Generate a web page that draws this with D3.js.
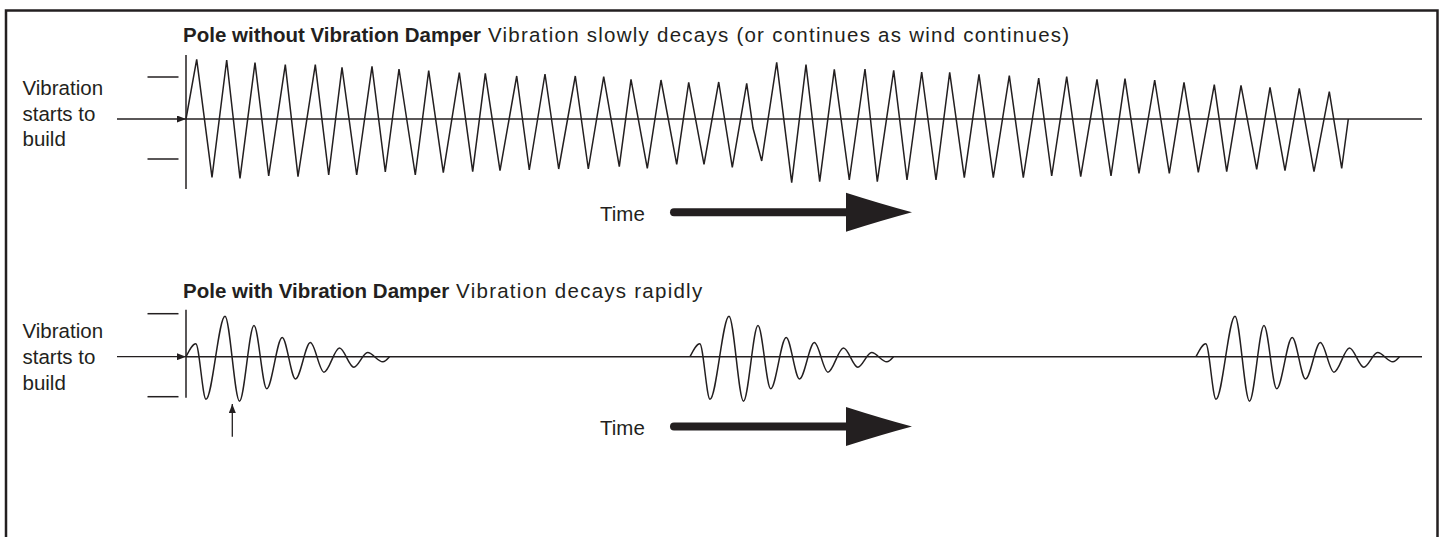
<!DOCTYPE html>
<html>
<head>
<meta charset="utf-8">
<script src="https://cdn.jsdelivr.net/npm/d3@7"></script>
<style>
  body { margin: 0; background: #fff; }
  svg { display: block; }
  text { font-family: "Liberation Sans", Arial, sans-serif; fill: #231f20; }
</style>
</head>
<body>
<script>
// time runs 0..1236 along both panels, amplitude in units where the guide ticks sit near +-41
const sideLabel = ["Vibration", "starts to", "build"];

const topTitle = ["Pole without Vibration Damper", "Vibration slowly decays (or continues as wind continues)"];
const bottomTitle = ["Pole with Vibration Damper", "Vibration decays rapidly"];

const topTicks = [42, -40];
const bottomTicks = [43, -40];

// undamped pole: peaks and troughs of the zigzag [time, amplitude]
const topWave = [
  [0, 0], [10.7, 59.7], [26, -58.3], [40.7, 59], [54, -59.3], [69, 56.3], [82.7, -57],
  [99.3, 54.3], [112, -57.7], [129.3, 54.3], [142.7, -56], [156, 51.7], [170.7, -56],
  [186, 52.7], [199.3, -53], [213, 50], [229.3, -56], [242.7, 48.3], [257.3, -53.7],
  [273.3, 46.3], [286.7, -52.7], [299.3, 45.7], [314, -51.7], [330.7, 43], [343.3, -51],
  [359, 45], [372.7, -50], [389.3, 43], [402.3, -50], [417.7, 42.3], [433.3, -47.7],
  [445, 39.7], [461.3, -49.3], [475, 39], [490.7, -45.3], [502.7, 36.7], [518, -45.3],
  [532.7, 37], [546.3, -48.3], [560.7, 35.7], [567, -9], [575.7, -42],
  [590.7, 56.7], [605.7, -63.7], [620, 54.3], [633.7, -62.7], [648.3, 49.7], [663.3, -61],
  [679, 50], [691.3, -62.7], [707.7, 48.7], [721, -61], [735.7, 47], [750, -61],
  [763.7, 46.7], [778.3, -58.7], [793, 44.7], [807.3, -58.7], [823.3, 43.3], [837.3, -58.7],
  [852.7, 41], [865.7, -57], [880.7, 42.3], [894.7, -57.7], [911, 39.7], [925, -57],
  [939, 40.3], [953, -54.3], [968.7, 39], [983.3, -54.3], [998, 36.7], [1012.3, -53.3],
  [1028.3, 34.3], [1040.7, -52.7], [1055, 33.7], [1070.7, -50.3], [1084, 31.7], [1099, -51.7],
  [1113.3, 30.7], [1128, -52.7], [1143.3, 27.3], [1155.7, -49.3], [1162.3, 0]
];

// damped pole: one burst shape (extrema), repeated at each gust
const burstShape = [
  [0, 0], [9.8, 12.9], [20, -42.5], [39, 40.5], [53.5, -44.5], [68, 31.2], [80.7, -32],
  [96.2, 19.3], [109.5, -22.3], [124.4, 14.1], [137.9, -15.5], [153.5, 8.7], [167.8, -10.5],
  [181.6, 4.1], [196.8, -5.1], [203.5, 0]
];
const burstStarts = [0, 504, 1010];

const width = 1444, height = 537;
const ink = "#231f20";

const svg = d3.select("body").append("svg")
    .attr("width", width)
    .attr("height", height);

// outer frame, open at the bottom
svg.append("path")
    .attr("d", `M6,${height} V10.5 H1437.5 V${height}`)
    .attr("fill", "none")
    .attr("stroke", ink)
    .attr("stroke-width", 2.5);

const defs = svg.append("defs");
defs.append("marker")
    .attr("id", "head")
    .attr("markerUnits", "userSpaceOnUse")
    .attr("markerWidth", 9)
    .attr("markerHeight", 7)
    .attr("refX", 9)
    .attr("refY", 3.5)
    .attr("orient", "auto")
    .append("path")
    .attr("d", "M0,0 L9,3.5 L0,7 Z")
    .attr("fill", ink);

const x = d3.scaleLinear().domain([0, 1236]).range([186, 1422]);

const panels = [
    {
        title: topTitle, titleY: 41.7,
        y: d3.scaleLinear().domain([-41, 41]).range([160, 78]),
        ticks: topTicks, axis: [64, -70],
        labelY: [95, 120.7, 145.7],
        timeX: 600, timeY: 212.3
    },
    {
        title: bottomTitle, titleY: 298,
        y: d3.scaleLinear().domain([-41, 41]).range([397.7, 315.7]),
        ticks: bottomTicks, axis: [47, -41],
        labelY: [338.3, 364, 390],
        timeX: 600, timeY: 426.5
    }
];

function drawPanel(p) {
    const g = svg.append("g");
    const y = p.y;

    // title: bold lead then plain description
    const t = g.append("text")
        .attr("x", 183)
        .attr("y", p.titleY)
        .style("font-size", "20.5px");
    t.append("tspan").attr("font-weight", "bold").text(p.title[0]);
    t.append("tspan").style("letter-spacing", "1.25px").text(" " + p.title[1]);

    // side label
    g.selectAll("text.side")
        .data(sideLabel)
        .enter()
        .append("text")
        .attr("class", "side")
        .attr("x", 22.5)
        .attr("y", (d, j) => p.labelY[j])
        .style("font-size", "20.5px")
        .text(d => d);

    // arrow pointing at the start of vibration
    g.append("line")
        .attr("x1", 117).attr("x2", x(0))
        .attr("y1", y(0)).attr("y2", y(0))
        .attr("stroke", ink).attr("stroke-width", 1.3)
        .attr("marker-end", "url(#head)");

    // baseline
    g.append("line")
        .attr("x1", x(0)).attr("x2", x(1236))
        .attr("y1", y(0)).attr("y2", y(0))
        .attr("stroke", ink).attr("stroke-width", 1.5);

    // vertical axis
    g.append("line")
        .attr("x1", x(0)).attr("x2", x(0))
        .attr("y1", y(p.axis[0])).attr("y2", y(p.axis[1]))
        .attr("stroke", ink).attr("stroke-width", 1.5);

    // amplitude guide ticks
    g.selectAll("line.tick")
        .data(p.ticks)
        .enter()
        .append("line")
        .attr("class", "tick")
        .attr("x1", 147.5).attr("x2", 178.5)
        .attr("y1", d => y(d)).attr("y2", d => y(d))
        .attr("stroke", ink).attr("stroke-width", 1.5);

    // time arrow
    g.append("text")
        .attr("x", p.timeX)
        .attr("y", p.timeY + 8.5)
        .style("font-size", "20.5px")
        .text("Time");
    g.append("line")
        .attr("x1", x(488)).attr("x2", x(665))
        .attr("y1", p.timeY).attr("y2", p.timeY)
        .attr("stroke", ink).attr("stroke-width", 8)
        .attr("stroke-linecap", "round");
    const bx = x(660), tx = x(726), cy = p.timeY;
    g.append("path")
        .attr("d", `M${bx},${cy - 19.5} Q${bx + 36},${cy - 8} ${tx},${cy} Q${bx + 36},${cy + 8} ${bx},${cy + 19.5} Z`)
        .attr("fill", ink);
}

panels.forEach(drawPanel);

// undamped trace
const topLine = d3.line()
    .x(d => x(d[0]))
    .y(d => panels[0].y(d[1]));
svg.append("path")
    .datum(topWave)
    .attr("d", topLine)
    .attr("fill", "none")
    .attr("stroke", ink)
    .attr("stroke-width", 1.5)
    .attr("stroke-linejoin", "miter");

// damped bursts
const burstLine = d3.line()
    .x(d => x(d[0]))
    .y(d => panels[1].y(d[1]))
    .curve(d3.curveMonotoneX);
svg.selectAll("path.burst")
    .data(burstStarts)
    .enter()
    .append("path")
    .attr("class", "burst")
    .attr("d", s => burstLine(burstShape.map(d => [d[0] + s, d[1]])))
    .attr("fill", "none")
    .attr("stroke", ink)
    .attr("stroke-width", 1.5);

// small pointer under the first damped swing
svg.append("line")
    .attr("x1", x(46.3)).attr("x2", x(46.3))
    .attr("y1", 436.7).attr("y2", 404)
    .attr("stroke", ink).attr("stroke-width", 1.3)
    .attr("marker-end", "url(#head)");
</script>
</body>
</html>
